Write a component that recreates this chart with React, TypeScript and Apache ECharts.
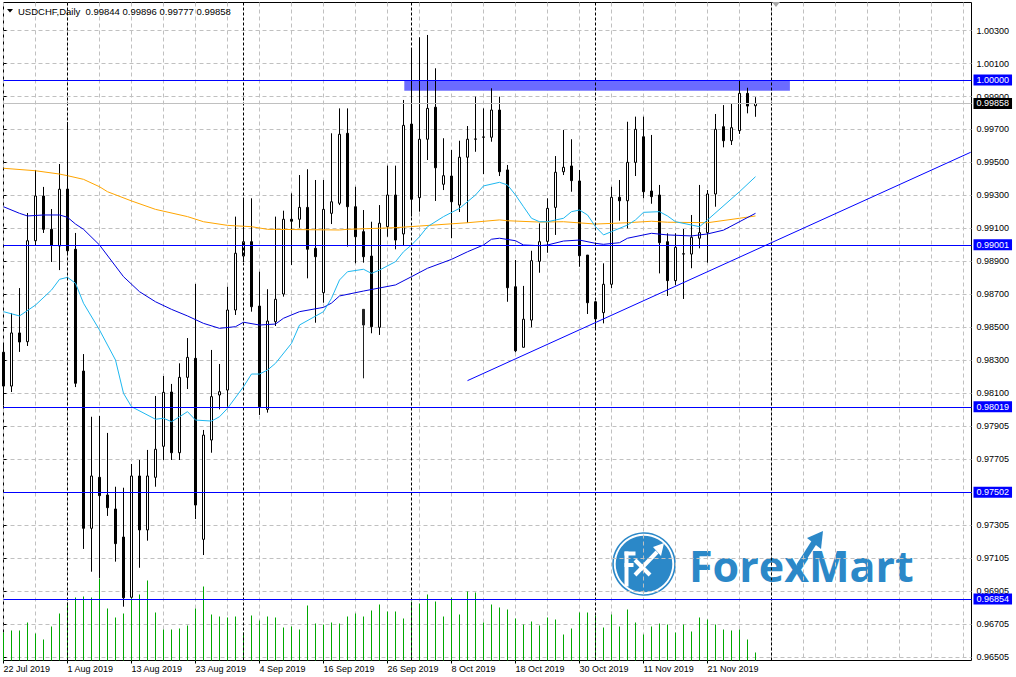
import React, { useEffect, useRef } from "react";
import * as echarts from "echarts";

// ---- x axis ticks ----
const xTickIndex = [0, 8, 16, 24, 32, 40, 48, 56, 64, 72, 80, 88];
const xTickLabels = [
  "22 Jul 2019", "1 Aug 2019", "13 Aug 2019", "23 Aug 2019", "4 Sep 2019", "16 Sep 2019",
  "26 Sep 2019", "8 Oct 2019", "18 Oct 2019", "30 Oct 2019", "11 Nov 2019", "21 Nov 2019",
];
const slotCount = 122;

// ---- y axis ticks ----
const yTickValues = [0.965, 0.967, 0.969, 0.971, 0.973, 0.975, 0.977, 0.979, 0.981, 0.983,
  0.985, 0.987, 0.989, 0.991, 0.993, 0.995, 0.997, 0.999, 1.001, 1.003];
const yTickLabels = ["0.96505", "0.96705", "0.96905", "0.97105", "0.97305", "0.97505", "0.97705",
  "0.97905", "0.98100", "0.98300", "0.98500", "0.98700", "0.98900", "0.99100", "0.99300",
  "0.99500", "0.99700", "0.99900", "1.00100", "1.00300"];
const yMin = 0.964818;
const yMax = 1.004697;

// ---- daily candles ----
const opens = [
  0.98350, 0.98145, 0.98467, 0.98414, 0.99026, 0.99297, 0.99095, 0.98994, 0.99339, 0.98974,
  0.98236, 0.97283, 0.97592, 0.97485, 0.97400, 0.97230, 0.96865, 0.97600, 0.97273, 0.97592,
  0.97780, 0.98109, 0.97741, 0.98198, 0.98313, 0.97216, 0.97818, 0.98091, 0.98121, 0.98606,
  0.98933, 0.99020, 0.98630, 0.98004, 0.98535, 0.98703, 0.99156, 0.99156, 0.99228, 0.98980,
  0.98711, 0.99192, 0.99253, 0.99677, 0.99232, 0.99081, 0.98933, 0.98501, 0.99111, 0.99303,
  0.99067, 0.99733, 0.99287, 0.99641, 0.99835, 0.99368, 0.99418, 0.99242, 0.99532, 0.99641,
  0.99653, 0.99653, 0.99818, 0.99455, 0.98747, 0.98380, 0.98545, 0.98901, 0.99022, 0.99228,
  0.99444, 0.99479, 0.99388, 0.98939, 0.98656, 0.98590, 0.98762, 0.99289, 0.99268, 0.99501,
  0.99656, 0.99327, 0.99303, 0.99020, 0.98784, 0.98945, 0.98945, 0.99041, 0.99075, 0.99309,
  0.99717, 0.99632, 0.99693, 0.99919, 0.99844,
];
const highs = [
  0.98406, 0.98588, 0.98739, 0.99194, 0.99455, 0.99352, 0.99218, 0.99491, 0.99745, 0.99073,
  0.98339, 0.97959, 0.97964, 0.97861, 0.97535, 0.97529, 0.97673, 0.97697, 0.97758, 0.98085,
  0.98206, 0.98158, 0.98283, 0.98436, 0.98764, 0.97879, 0.98364, 0.98279, 0.98747, 0.99172,
  0.99283, 0.99283, 0.98838, 0.98732, 0.99172, 0.99208, 0.99313, 0.99424, 0.99459, 0.99394,
  0.99394, 0.99677, 0.99828, 0.99828, 0.99353, 0.99212, 0.99141, 0.99242, 0.99481, 0.99481,
  0.99879, 1.00182, 1.00259, 1.00273, 1.00071, 0.99647, 0.99576, 0.99632, 0.99721, 0.99899,
  0.99828, 0.99950, 0.99899, 0.99485, 0.98909, 0.98752, 0.98965, 0.99131, 0.99283, 0.99539,
  0.99697, 0.99641, 0.99455, 0.98939, 0.98660, 0.98889, 0.99353, 0.99394, 0.99747, 0.99778,
  0.99778, 0.99667, 0.99364, 0.99071, 0.99071, 0.99097, 0.99182, 0.99364, 0.99333, 0.99794,
  0.99848, 0.99859, 1.00000, 0.99953, 0.99896,
];
const lows = [
  0.98030, 0.98109, 0.98352, 0.98388, 0.99000, 0.99073, 0.98897, 0.98848, 0.98940, 0.98139,
  0.97158, 0.97020, 0.96982, 0.97358, 0.97081, 0.96808, 0.96861, 0.97044, 0.97208, 0.97535,
  0.97697, 0.97697, 0.97697, 0.98127, 0.97339, 0.97121, 0.97741, 0.98004, 0.98020, 0.98576,
  0.98897, 0.98596, 0.97970, 0.97984, 0.98509, 0.98687, 0.98879, 0.99104, 0.98798, 0.98529,
  0.98650, 0.99127, 0.99242, 0.98990, 0.98889, 0.98893, 0.98465, 0.98455, 0.99050, 0.98974,
  0.99000, 0.99172, 0.99202, 0.99515, 0.99267, 0.99333, 0.99041, 0.99200, 0.99135, 0.99565,
  0.99430, 0.99626, 0.99418, 0.98656, 0.98350, 0.98380, 0.98501, 0.98832, 0.98953, 0.99061,
  0.99424, 0.99323, 0.98868, 0.98582, 0.98497, 0.98525, 0.98738, 0.99147, 0.99101, 0.99418,
  0.99283, 0.99250, 0.98828, 0.98691, 0.98758, 0.98673, 0.98859, 0.98980, 0.98893, 0.99232,
  0.99592, 0.99606, 0.99673, 0.99798, 0.99777,
];
const closes = [
  0.98145, 0.98467, 0.98412, 0.99026, 0.99297, 0.99095, 0.99000, 0.99338, 0.98965, 0.98162,
  0.97283, 0.97600, 0.97481, 0.97408, 0.97190, 0.96862, 0.97600, 0.97273, 0.97600, 0.97762,
  0.98107, 0.97741, 0.98198, 0.98319, 0.97424, 0.97848, 0.98081, 0.98111, 0.98606, 0.98950,
  0.99020, 0.98626, 0.98020, 0.98539, 0.98671, 0.99156, 0.99144, 0.99228, 0.98974, 0.98929,
  0.99216, 0.99262, 0.99671, 0.99232, 0.99050, 0.98929, 0.98505, 0.99132, 0.99303, 0.99030,
  0.99725, 0.99277, 0.99641, 0.99828, 0.99468, 0.99420, 0.99262, 0.99532, 0.99641, 0.99643,
  0.99655, 0.99818, 0.99444, 0.98741, 0.98359, 0.98550, 0.98905, 0.99020, 0.99222, 0.99441,
  0.99471, 0.99390, 0.98935, 0.98650, 0.98552, 0.98762, 0.99289, 0.99268, 0.99501, 0.99701,
  0.99323, 0.99293, 0.99014, 0.98784, 0.98986, 0.98947, 0.99047, 0.99075, 0.99309, 0.99701,
  0.99632, 0.99711, 0.99919, 0.99842, 0.99858,
];
const volumes = [
  28, 30, 30, 38, 27, 21, 34, 47, 58, 63,
  64, 63, 82, 52, 43, 47, 63, 66, 80, 48,
  31, 31, 32, 35, 52, 74, 46, 44, 43, 44,
  28, 45, 40, 44, 43, 33, 34, 31, 55, 37,
  36, 38, 37, 44, 47, 44, 50, 56, 49, 49,
  42, 59, 57, 66, 59, 44, 63, 46, 69, 68,
  38, 56, 53, 51, 42, 36, 39, 35, 43, 41,
  26, 32, 48, 48, 45, 33, 46, 34, 51, 38,
  26, 34, 37, 36, 28, 36, 29, 43, 41, 36,
  31, 30, 31, 21, 8,
];
const volumeMax = 658;

// extra dark bar drawn on 12 Sep
const oddBarIndex = 45;
const oddBar = [0.98610, 0.98515, 0.98192, 0.98610];

// ---- moving averages [bar index, price] ----
const maFast = [
  [0, 0.98596], [2, 0.98570], [4, 0.98636], [6, 0.98727], [7, 0.98792], [8, 0.98804], [9, 0.98768],
  [10, 0.98647], [12, 0.98485], [14, 0.98303], [15, 0.98101], [16, 0.98020], [19, 0.97944],
  [20, 0.97950], [21, 0.97929], [22, 0.97959], [23, 0.97990], [24, 0.97939], [26, 0.97933],
  [27, 0.97959], [28, 0.98010], [30, 0.98141], [31, 0.98218], [32, 0.98218], [33, 0.98242],
  [34, 0.98283], [36, 0.98404], [37, 0.98515], [40, 0.98596], [41, 0.98677], [42, 0.98788],
  [43, 0.98838], [45, 0.98853], [46, 0.98828], [47, 0.98848], [49, 0.98899], [50, 0.98959],
  [51, 0.99000], [52, 0.99050], [53, 0.99111], [55, 0.99172], [57, 0.99222], [59, 0.99303],
  [60, 0.99358], [62, 0.99380], [63, 0.99364], [64, 0.99303], [65, 0.99232], [66, 0.99162],
  [67, 0.99141], [68, 0.99141], [70, 0.99162], [71, 0.99202], [72, 0.99212], [73, 0.99182],
  [74, 0.99111], [75, 0.99061], [76, 0.99081], [78, 0.99121], [79, 0.99152], [80, 0.99198],
  [82, 0.99202], [83, 0.99176], [84, 0.99141], [87, 0.99111], [88, 0.99152], [92, 0.99323],
  [94, 0.99414],
];
const maMid = [
  [0, 0.99232], [2, 0.99192], [3, 0.99176], [5, 0.99182], [7, 0.99182], [8, 0.99168], [9, 0.99127],
  [10, 0.99095], [12, 0.99000], [15, 0.98808], [17, 0.98717], [19, 0.98656], [21, 0.98610],
  [23, 0.98570], [25, 0.98525], [27, 0.98495], [29, 0.98505], [30, 0.98532], [32, 0.98515],
  [34, 0.98521], [35, 0.98556], [37, 0.98596], [40, 0.98622], [41, 0.98648], [42, 0.98691],
  [45, 0.98721], [49, 0.98758], [51, 0.98808], [53, 0.98859], [56, 0.98913], [58, 0.98959],
  [60, 0.99000], [61, 0.99035], [62, 0.99041], [64, 0.99026], [65, 0.99000], [67, 0.98996],
  [68, 0.99000], [70, 0.99024], [72, 0.99030], [74, 0.99010], [75, 0.99004], [77, 0.99014],
  [78, 0.99041], [81, 0.99071], [83, 0.99061], [86, 0.99055], [88, 0.99067], [90, 0.99090],
  [94, 0.99192],
];
const maSlow = [
  [0, 0.99465], [4, 0.99450], [7, 0.99430], [8, 0.99420], [10, 0.99398], [12, 0.99353],
  [13, 0.99323], [16, 0.99267], [19, 0.99216], [23, 0.99172], [25, 0.99141], [28, 0.99119],
  [31, 0.99111], [33, 0.99095], [42, 0.99091], [43, 0.99095], [49, 0.99105], [52, 0.99115],
  [58, 0.99135], [62, 0.99152], [63, 0.99147], [67, 0.99139], [70, 0.99141], [74, 0.99127],
  [78, 0.99135], [81, 0.99144], [83, 0.99138], [88, 0.99135], [92, 0.99162], [94, 0.99176],
];

// ---- drawn objects ----
const levels = [1.0, 0.99001, 0.98019, 0.97502, 0.96854];
const bidPrice = 0.99858;
const separators = [8, 30, 51, 74, 96];
const trendLine = [[58, 0.98178], [120.9, 0.99562]];
const zoneFrom = [50.1, 1.0];
const zoneTo = [98.3, 0.99935];

const titleText = "USDCHF,Daily  0.99844 0.99896 0.99777 0.99858";

const FONT = "Liberation Sans";
const LOGO_BLUE = "#2b88c8";
const VOLUME_GREEN = "#00a800";

export default function App() {
  const ref = useRef<HTMLDivElement>(null);

  useEffect(() => {
    if (!ref.current) return;
    const chart = echarts.init(ref.current, undefined, { renderer: "svg" });

    const categories = Array.from({ length: slotCount }, (_, i) => String(i));
    const candleData = opens.map((o, i) => [o, closes[i], lows[i], highs[i]]);
    const oddData = Array.from({ length: oddBarIndex + 1 }, (_, i) => (i === oddBarIndex ? oddBar : "-"));
    const volumeData = volumes.map((v, i) => [i, v]);

    const isTick = (i: number) => xTickIndex.indexOf(i) >= 0;

    const levelLabel = (bg: string) => ({
      show: true,
      position: "end",
      distance: 2,
      backgroundColor: bg,
      color: "#ffffff",
      fontFamily: FONT,
      fontSize: 9,
      padding: [1, 3, 1, 3],
    });

    const option: any = {
      animation: false,
      backgroundColor: "#ffffff",
      textStyle: { fontFamily: FONT },
      grid: {
        left: 3.5, top: 2.5, width: 968, height: 658, show: true,
        borderColor: "#000000", borderWidth: 1, backgroundColor: "#ffffff", containLabel: false,
      },
      xAxis: [
        {
          type: "category",
          data: categories,
          boundaryGap: false,
          axisLine: { show: false },
          axisTick: { show: true, interval: (i: number) => isTick(i), length: 3, lineStyle: { color: "#000" } },
          axisLabel: {
            show: true,
            interval: (i: number) => isTick(i),
            formatter: (v: string) => {
              const k = xTickIndex.indexOf(Number(v));
              return k >= 0 ? xTickLabels[k] : "";
            },
            align: "left",
            margin: 4,
            fontSize: 9,
            color: "#000",
            fontFamily: FONT,
          },
          splitLine: { show: true, interval: 3, lineStyle: { color: "#c0c0c0", type: [4, 3], width: 1 } },
        },
        { type: "value", min: 0, max: slotCount - 1, show: false },
      ],
      yAxis: [
        {
          type: "value",
          position: "right",
          min: yMin,
          max: yMax,
          scale: true,
          axisLine: { show: false },
          axisTick: { show: true, length: 3, customValues: yTickValues, lineStyle: { color: "#000" } },
          axisLabel: {
            show: true,
            customValues: yTickValues,
            margin: 5,
            fontSize: 9,
            color: "#000",
            fontFamily: FONT,
            formatter: (v: number) => {
              const k = yTickValues.findIndex((t) => Math.abs(t - v) < 1e-7);
              return k >= 0 ? yTickLabels[k] : "";
            },
          },
          splitLine: { show: true, lineStyle: { color: "#c0c0c0", type: [4, 3], width: 1 } },
        },
        { type: "value", min: 0, max: volumeMax, show: false, position: "right" },
      ],
      series: [
        {
          name: "zone",
          type: "line",
          xAxisIndex: 1,
          yAxisIndex: 0,
          z: 1,
          silent: true,
          data: [zoneFrom],
          symbol: "none",
          lineStyle: { opacity: 0 },
          markArea: {
            silent: true,
            itemStyle: { color: "#6b6bff", opacity: 1 },
            data: [[{ coord: zoneFrom }, { coord: zoneTo }]],
          },
          markLine: {
            silent: true,
            precision: 5,
            symbol: ["none", "none"],
            label: { show: false },
            lineStyle: { color: "#000000", type: [3, 2], width: 1 },
            data: separators.map((s) => ({ xAxis: s })),
          },
        },
        {
          name: "volume",
          type: "custom",
          xAxisIndex: 0,
          yAxisIndex: 1,
          z: 2,
          silent: true,
          data: volumeData,
          encode: { x: 0, y: 1 },
          renderItem: (params: any, api: any) => {
            const idx = api.value(0);
            const top = api.coord([idx, api.value(1)]);
            const base = api.coord([idx, 0]);
            return {
              type: "rect",
              shape: { x: Math.round(top[0] - 0.5), y: top[1], width: 1, height: base[1] - top[1] },
              style: { fill: VOLUME_GREEN },
            };
          },
        },
        {
          name: "USDCHF",
          type: "candlestick",
          xAxisIndex: 0,
          yAxisIndex: 0,
          z: 3,
          barWidth: 3,
          data: candleData,
          itemStyle: {
            color: "#ffffff",
            color0: "#000000",
            borderColor: "#000000",
            borderColor0: "#000000",
            borderWidth: 1,
          },
        },
        {
          name: "extra",
          type: "candlestick",
          xAxisIndex: 0,
          yAxisIndex: 0,
          z: 3,
          barWidth: 3,
          data: oddData,
          itemStyle: { color: "#222222", color0: "#222222", borderColor: "#222222", borderColor0: "#222222", borderWidth: 1 },
        },
        {
          name: "MA slow",
          type: "line",
          z: 4,
          data: maSlow,
          showSymbol: false,
          symbol: "none",
          lineStyle: { color: "#ffa500", width: 1 },
        },
        {
          name: "MA mid",
          type: "line",
          z: 4,
          data: maMid,
          showSymbol: false,
          symbol: "none",
          lineStyle: { color: "#0000e0", width: 1 },
        },
        {
          name: "MA fast",
          type: "line",
          z: 4,
          data: maFast,
          showSymbol: false,
          symbol: "none",
          lineStyle: { color: "#1eb8f0", width: 1 },
        },
        {
          name: "trend",
          type: "line",
          xAxisIndex: 1,
          yAxisIndex: 0,
          z: 5,
          data: trendLine,
          showSymbol: false,
          symbol: "none",
          lineStyle: { color: "#0000ff", width: 1 },
        },
        {
          name: "levels",
          type: "line",
          xAxisIndex: 1,
          yAxisIndex: 0,
          z: 6,
          data: [[slotCount - 1, 1.0]],
          symbol: "none",
          lineStyle: { opacity: 0 },
          markLine: {
            silent: true,
            precision: 5,
            symbol: ["none", "none"],
            data: [
              {
                yAxis: bidPrice,
                lineStyle: { color: "#c0c0c0", width: 1, type: "solid" },
                label: { ...levelLabel("#000000"), formatter: bidPrice.toFixed(5) },
              },
              ...levels.map((v) => ({
                yAxis: v,
                lineStyle: { color: "#0000ff", width: 1, type: "solid" },
                label: { ...levelLabel("#0000ff"), formatter: v.toFixed(5) },
              })),
            ],
          },
        },
      ],
      graphic: [
        {
          type: "group",
          z: 1,
          children: [
            { type: "circle", shape: { cx: 644, cy: 564, r: 31 }, style: { fill: "none", stroke: LOGO_BLUE, lineWidth: 1.6 } },
            { type: "circle", shape: { cx: 644, cy: 564, r: 28.3 }, style: { fill: LOGO_BLUE } },
            { type: "rect", shape: { x: 624.5, y: 551.5, width: 4, height: 35 }, style: { fill: "#ffffff" } },
            { type: "rect", shape: { x: 624.5, y: 551.5, width: 11, height: 4 }, style: { fill: "#ffffff" } },
            { type: "rect", shape: { x: 624.5, y: 563, width: 9, height: 4 }, style: { fill: "#ffffff" } },
            { type: "line", shape: { x1: 635, y1: 560, x2: 650, y2: 575 }, style: { stroke: "#ffffff", lineWidth: 4 } },
            { type: "line", shape: { x1: 635, y1: 575, x2: 657, y2: 552 }, style: { stroke: "#ffffff", lineWidth: 4 } },
            { type: "polygon", shape: { points: [[664, 543], [653, 547], [661, 556]] }, style: { fill: "#ffffff" } },
            {
              type: "text",
              x: 689,
              y: 565,
              style: { text: "ForexMart", fill: LOGO_BLUE, font: 'bold 43px "Open Sans"', textAlign: "left", textVerticalAlign: "middle" },
            },
            { type: "line", shape: { x1: 799, y1: 566, x2: 815, y2: 541 }, style: { stroke: LOGO_BLUE, lineWidth: 6 } },
            { type: "polygon", shape: { points: [[823, 531], [807, 538], [821, 549]] }, style: { fill: LOGO_BLUE } },
          ],
        },
        {
          type: "polygon",
          z: 10,
          shape: { points: [[7, 9], [13, 9], [10, 12.5]] },
          style: { fill: "#000000" },
        },
        {
          type: "text",
          z: 10,
          x: 18,
          y: 11,
          style: { text: titleText, fill: "#000000", font: `9.5px "${FONT}"`, textAlign: "left", textVerticalAlign: "middle" },
        },
        {
          type: "polygon",
          z: 10,
          shape: { points: [[772, 2], [780, 2], [776, 7]] },
          style: { fill: "#a8a8a8" },
        },
      ],
    };

    chart.setOption(option);
    return () => chart.dispose();
  }, []);

  return (
    <div
      ref={ref}
      style={{ position: "fixed", left: 0, top: 0, width: 1016, height: 677, background: "#fff" }}
    />
  );
}
